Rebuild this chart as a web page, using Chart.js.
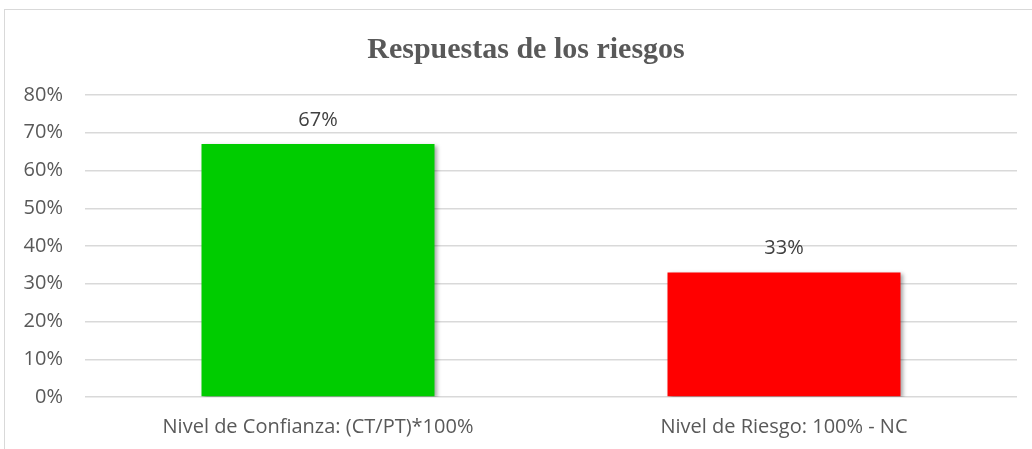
<!DOCTYPE html>
<html>
<head>
<meta charset="utf-8">
<script src="https://cdn.jsdelivr.net/npm/chart.js@4.4.1/dist/chart.umd.min.js"></script>
<style>
html,body{margin:0;padding:0;background:#fff;}
#wrap{position:relative;width:1032px;height:449px;overflow:hidden;}
#frame{position:absolute;left:4px;top:9px;width:1100px;height:600px;border-left:1px solid #d9d9d9;border-top:1px solid #d9d9d9;}
canvas{position:absolute;left:0;top:0;}
</style>
</head>
<body>
<div id="wrap">
<div id="frame"></div>
<canvas id="c" width="1032" height="449"></canvas>
</div>
<script>
const categories = ["Nivel de Confianza: (CT/PT)*100%", "Nivel de Riesgo: 100% - NC"];
const values = [67, 33];
const barColors = ["#00cc00", "#ff0000"];
const yTicks = [0, 10, 20, 30, 40, 50, 60, 70, 80];
const titleText = "Respuestas de los riesgos";

const labelFont = "'Open Sans', 'Liberation Sans', sans-serif";

const titlePlugin = {
  id: 'customTitle',
  afterDraw(chart) {
    const ctx = chart.ctx;
    ctx.save();
    ctx.font = "bold 30px 'Liberation Serif', 'DejaVu Serif', serif";
    ctx.fillStyle = "#595959";
    ctx.textAlign = "center";
    ctx.textBaseline = "alphabetic";
    ctx.fillText(titleText, 526, 58);
    ctx.restore();
  }
};

const shadowPlugin = {
  id: 'barShadow',
  beforeDatasetDraw(chart) {
    const ctx = chart.ctx;
    ctx.save();
    ctx.shadowColor = "rgba(0,0,0,0.35)";
    ctx.shadowBlur = 4;
    ctx.shadowOffsetX = 2;
    ctx.shadowOffsetY = 2;
  },
  afterDatasetDraw(chart) {
    chart.ctx.restore();
  }
};

const dataLabelPlugin = {
  id: 'dataLabels',
  afterDatasetsDraw(chart) {
    const ctx = chart.ctx;
    const meta = chart.getDatasetMeta(0);
    ctx.save();
    ctx.font = "20px " + labelFont;
    ctx.fillStyle = "#404040";
    ctx.textAlign = "center";
    ctx.textBaseline = "middle";
    meta.data.forEach((bar, i) => {
      ctx.fillText(values[i] + "%", bar.x, bar.y - 24);
    });
    ctx.restore();
  }
};

new Chart(document.getElementById('c'), {
  type: 'bar',
  data: {
    labels: categories,
    datasets: [{
      data: values,
      backgroundColor: barColors,
      borderWidth: 0,
      categoryPercentage: 1.0,
      barPercentage: 0.5
    }]
  },
  options: {
    responsive: false,
    animation: false,
    devicePixelRatio: 1,
    layout: { padding: { left: 0, right: 15, top: 95, bottom: 0 } },
    plugins: {
      legend: { display: false },
      title: { display: false },
      tooltip: { enabled: false }
    },
    scales: {
      y: {
        min: 0,
        max: 80,
        afterBuildTicks(scale) { scale.ticks = yTicks.map(v => ({ value: v })); },
        afterFit(scale) { scale.width = 85; },
        border: { display: false },
        grid: { color: "#d9d9d9", lineWidth: 1.5, drawTicks: false },
        ticks: {
          padding: 22,
          color: "#595959",
          font: { family: labelFont, size: 20 },
          callback: v => v + "%"
        }
      },
      x: {
        afterFit(scale) { scale.height = 52; },
        border: { display: false },
        grid: { display: false, drawTicks: false },
        ticks: {
          padding: 18,
          color: "#595959",
          font: { family: labelFont, size: 20 }
        }
      }
    }
  },
  plugins: [titlePlugin, shadowPlugin, dataLabelPlugin]
});
</script>
</body>
</html>
